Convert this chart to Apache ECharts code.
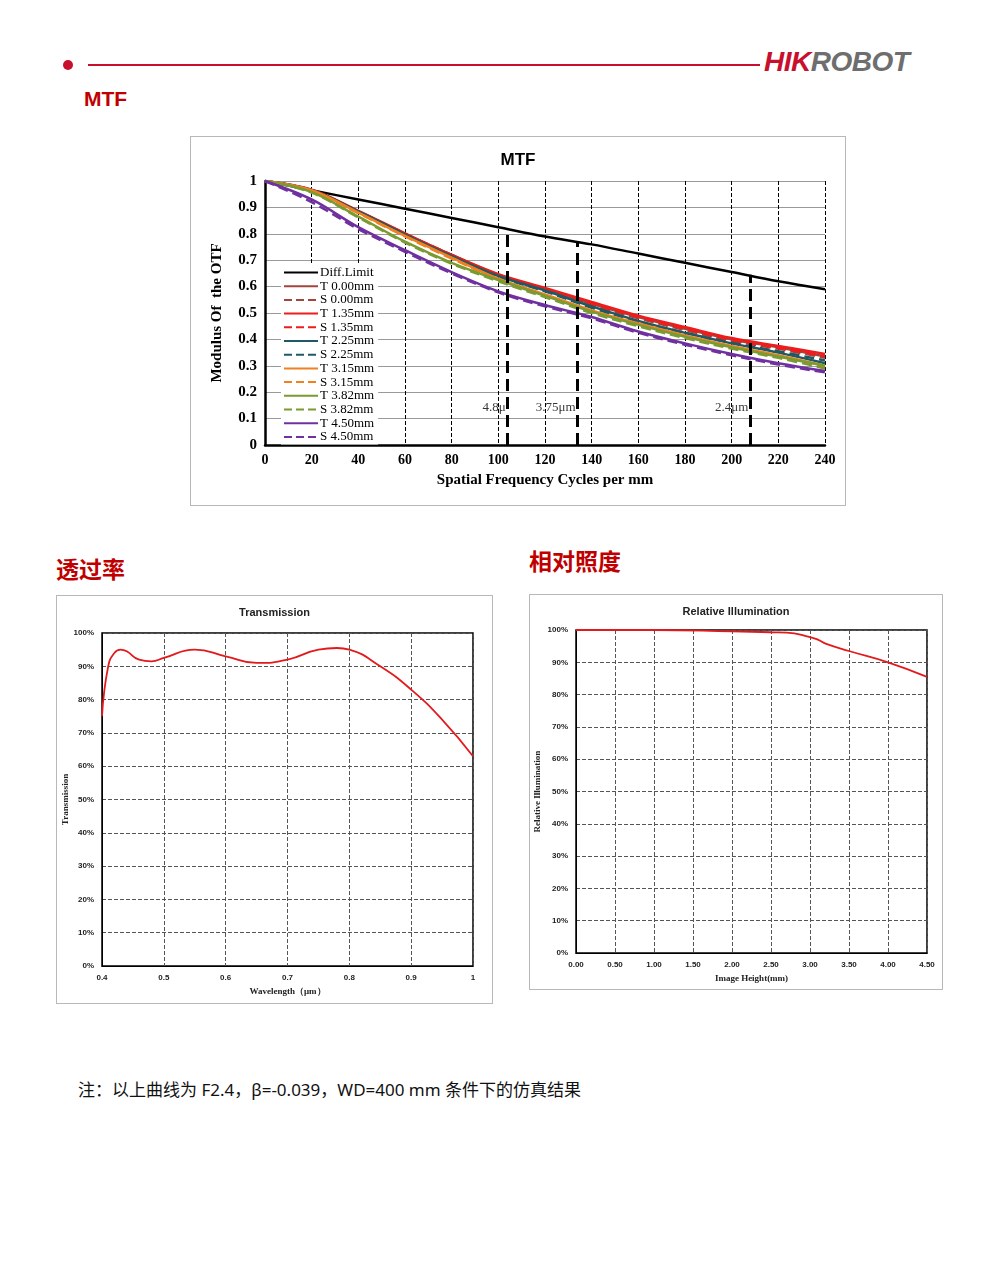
<!DOCTYPE html>
<html><head><meta charset="utf-8">
<script src="https://cdn.jsdelivr.net/npm/echarts@6/dist/echarts.min.js"></script>
<style>
body{margin:0;width:990px;height:1264px;background:#fff;position:relative;font-family:"Noto Sans","Noto Sans CJK SC",sans-serif;overflow:hidden}
.abs{position:absolute}
.box{position:absolute;border:1px solid #b8b8b8;box-sizing:border-box}
.h{color:#c00000;font-weight:bold;font-family:"Noto Sans CJK SC",sans-serif}
</style></head><body>
<div class="abs" style="left:63px;top:60px;width:10px;height:10px;border-radius:5px;background:#c8102e"></div>
<div class="abs" style="left:88px;top:64px;width:672px;height:2px;background:#c8102e"></div>
<div class="abs" style="left:764px;top:46px;font:italic bold 28px 'Liberation Sans',sans-serif;letter-spacing:-0.5px"><span style="color:#c8102e">HIK</span><span style="color:#6e6e6e">ROBOT</span></div>
<div class="abs h" style="left:84px;top:87px;font-size:21px;font-family:'Liberation Sans Narrow','Liberation Sans',sans-serif">MTF</div>
<div class="abs h" style="left:56px;top:551px;font-size:23px">透过率</div>
<div class="abs h" style="left:529px;top:543px;font-size:23px">相对照度</div>
<div class="abs" style="left:78px;top:1076px;font-size:17px;color:#111">注：以上曲线为 F2.4，β=-0.039，WD=400 mm 条件下的仿真结果</div>
<div id="mtf" class="box" style="left:190px;top:136px;width:656px;height:370px"></div>
<div id="tr" class="box" style="left:56px;top:595px;width:437px;height:409px"></div>
<div id="ri" class="box" style="left:529px;top:594px;width:414px;height:396px"></div>
<script>
const freq=[0,20,40,60,80,100,120,140,160,180,200,220,240];
const diffLimit=[1,0.965,0.93,0.895,0.86,0.825,0.79,0.76,0.725,0.69,0.655,0.62,0.59];
const t000=[1,0.965,0.885,0.80,0.72,0.645,0.59,0.535,0.485,0.44,0.40,0.37,0.335];
const s000=[1,0.965,0.885,0.80,0.72,0.642,0.585,0.53,0.48,0.435,0.395,0.365,0.33];
const t135=[1,0.967,0.887,0.802,0.72,0.647,0.595,0.542,0.49,0.447,0.405,0.375,0.345];
const s135=[1,0.965,0.885,0.80,0.718,0.643,0.59,0.535,0.485,0.44,0.398,0.367,0.337];
const t225=[1,0.965,0.885,0.797,0.715,0.64,0.585,0.525,0.47,0.425,0.385,0.35,0.31];
const s225=[1,0.965,0.883,0.797,0.713,0.638,0.582,0.52,0.468,0.425,0.387,0.355,0.32];
const t315=[1,0.965,0.88,0.792,0.71,0.63,0.57,0.51,0.46,0.415,0.375,0.34,0.30];
const s315=[1,0.963,0.878,0.79,0.706,0.628,0.567,0.507,0.455,0.41,0.37,0.335,0.295];
const t382=[1,0.958,0.865,0.77,0.69,0.625,0.565,0.505,0.455,0.41,0.37,0.335,0.30];
const s382=[1,0.956,0.862,0.767,0.687,0.62,0.56,0.5,0.45,0.405,0.365,0.33,0.29];
const t450=[1,0.93,0.825,0.738,0.655,0.582,0.53,0.485,0.43,0.385,0.345,0.31,0.28];
const s450=[1,0.92,0.818,0.732,0.65,0.578,0.525,0.48,0.425,0.38,0.34,0.305,0.275];
const pixelLines=[[104,0.82,'4.8μ'],[134,0.765,'3.75μm'],[208,0.645,'2.4μm']];
const wavelength=[0.4,0.41,0.42,0.43,0.44,0.46,0.48,0.5,0.55,0.6,0.65,0.7,0.75,0.78,0.8,0.85,0.9,0.95,1.0];
const transmission=[75,90,94,95,94.5,92,91.5,92.5,95,93,91,92,95,95.5,95,90,83,74,63];
const imgHeight=[0,1,2,2.5,2.7,3.0,3.1,3.2,3.5,4.0,4.5];
const illum=[100,100,99.6,99.3,99.2,97.8,97,95.8,93.5,90,85.5];

const serif='"Liberation Serif","DejaVu Serif",serif';
const zip=(a,b)=>a.map((v,i)=>[v,b[i]]);
const curves=[
 ['Diff.Limit',diffLimit,'#000','solid'],
 ['T 0.00mm',t000,'#a0463c','solid'],['S 0.00mm',s000,'#a0463c','dashed'],
 ['T 1.35mm',t135,'#ee1c1c','solid'],['S 1.35mm',s135,'#ee1c1c','dashed'],
 ['T 2.25mm',t225,'#1f5a64','solid'],['S 2.25mm',s225,'#1f5a64','dashed'],
 ['T 3.15mm',t315,'#f08020','solid'],['S 3.15mm',s315,'#f08020','dashed'],
 ['T 3.82mm',t382,'#7a9a32','solid'],['S 3.82mm',s382,'#7a9a32','dashed'],
 ['T 4.50mm',t450,'#7030a0','solid'],['S 4.50mm',s450,'#7030a0','dashed']];
const mtfSeries=curves.map(c=>({name:c[0],type:'line',data:zip(freq,c[1]),smooth:0.35,symbol:'none',
 lineStyle:{color:c[2],type:c[3],width:2.5},itemStyle:{color:c[2]}}));
mtfSeries.push({type:'line',data:[],silent:true,markLine:{symbol:'none',silent:true,
 lineStyle:{color:'#000',type:'dashed',width:3},label:{show:false},
 data:pixelLines.map(p=>[{coord:[p[0],0]},{coord:[p[0],p[1]]}])}});
mtfSeries.push({type:'scatter',symbolSize:0,silent:true,data:pixelLines.map(p=>[p[0],0.14,p[2]]),
 label:{show:true,position:'left',distance:2,formatter:d=>d.data[2],fontFamily:serif,fontSize:13,color:'#000'}});
const m=echarts.init(document.getElementById('mtf'));
m.setOption({animation:false,
 title:{text:'MTF',left:'center',top:10,textStyle:{fontSize:17,fontWeight:'bold',fontFamily:'"Liberation Sans",sans-serif',color:'#000'}},
 grid:{left:74,right:20,top:44,bottom:60,outerBoundsMode:'none'},
 legend:{data:curves.map(c=>c[0]),orient:'vertical',left:90,top:128,itemGap:0.7,itemWidth:34,itemHeight:12,padding:[1,4,1,2],
  backgroundColor:'#fff',itemStyle:{opacity:0},
  textStyle:{fontFamily:serif,fontSize:13,color:'#000',padding:[0,0,0,-3],lineHeight:13}},
 xAxis:{type:'value',min:0,max:240,interval:20,name:'Spatial Frequency Cycles per mm',nameLocation:'middle',nameGap:28,
  nameTextStyle:{fontFamily:serif,fontWeight:'bold',fontSize:15,color:'#000'},
  axisLine:{lineStyle:{color:'#000',width:2.5}},axisTick:{show:false},
  axisLabel:{fontFamily:serif,fontWeight:'bold',fontSize:14,color:'#000'},
  splitLine:{lineStyle:{color:'#000',type:'dashed',width:1}}},
 yAxis:{type:'value',min:0,max:1,interval:0.1,name:'Modulus Of  the OTF',nameLocation:'middle',nameGap:40,nameMoveOverlap:false,
  nameTextStyle:{fontFamily:serif,fontWeight:'bold',fontSize:15,color:'#000'},
  axisLine:{show:true,lineStyle:{color:'#000',width:2.5}},axisTick:{show:false},
  axisLabel:{fontFamily:serif,fontWeight:'bold',fontSize:15,color:'#000',formatter:v=>String(+v.toFixed(1))},
  splitLine:{lineStyle:{color:'#999',width:1}}},
 series:mtfSeries});

function small(id,title,grid,xa,ya,data){
 const c=echarts.init(document.getElementById(id));
 c.setOption({animation:false,
  title:{text:title,left:'center',top:6,textStyle:{fontSize:11,fontWeight:'bold',fontFamily:'"Liberation Sans",sans-serif',color:'#222'}},
  grid:Object.assign({show:true,borderColor:'#000',borderWidth:1.5,outerBoundsMode:'none'},grid),
  xAxis:Object.assign({type:'value',nameLocation:'middle',nameGap:15,
   nameTextStyle:{fontFamily:serif,fontWeight:'bold',fontSize:9,color:'#222'},
   axisLine:{lineStyle:{color:'#000'}},axisTick:{show:false},
   splitLine:{lineStyle:{color:'#555',type:'dashed'}}},xa),
  yAxis:Object.assign({type:'value',min:0,max:100,interval:10,nameLocation:'middle',nameMoveOverlap:false,
   nameTextStyle:{fontFamily:serif,fontWeight:'bold',fontSize:9,color:'#222'},
   axisLine:{show:true,lineStyle:{color:'#000'}},axisTick:{show:false},
   axisLabel:{fontSize:8,fontWeight:'bold',color:'#222',fontFamily:'"Liberation Sans",sans-serif',formatter:'{value}%'},
   splitLine:{lineStyle:{color:'#555',type:'dashed'}}},ya),
  series:[{type:'line',data:data,smooth:true,symbol:'none',lineStyle:{color:'#e31a1c',width:1.8}}]});
}
small('tr','Transmission',{left:45,right:19,top:37,bottom:37},
 {min:0.4,max:1,interval:0.1,name:'Wavelength（μm）',axisLabel:{formatter:v=>String(+v.toFixed(1)),fontSize:8,fontWeight:'bold',color:'#222'}},
 {name:'Transmission',nameGap:32},zip(wavelength,transmission));
small('ri','Relative Illumination',{left:46,right:15,top:35,bottom:36},
 {min:0,max:4.5,interval:0.5,name:'Image Height(mm)',axisLabel:{formatter:v=>v.toFixed(2),fontSize:8,fontWeight:'bold',color:'#222'}},
 {name:'Relative Illumination',nameGap:34},zip(imgHeight,illum));
</script></body></html>
